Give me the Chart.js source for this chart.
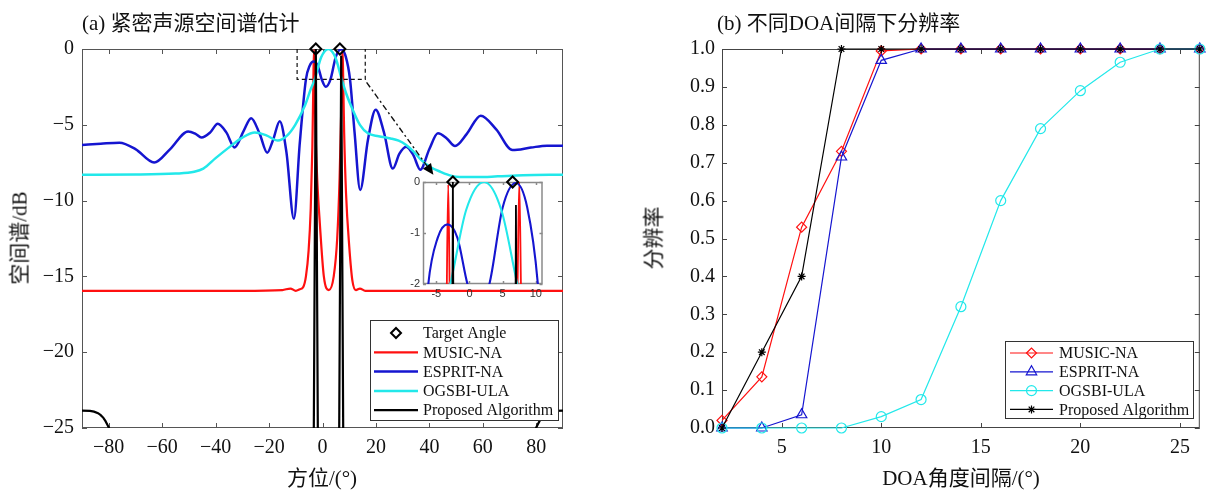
<!DOCTYPE html>
<html lang="zh-CN">
<head>
<meta charset="utf-8">
<title>DOA spectrum / resolution</title>
<script src="https://cdn.jsdelivr.net/npm/chart.js@4.4.1/dist/chart.umd.min.js"></script>
<style>
  html, body { margin: 0; padding: 0; background: #fff; }
  #wrap { position: relative; width: 1207px; height: 491px; overflow: hidden;
          font-family: 'Liberation Serif', 'Noto Sans CJK SC', serif; color: #111; }
  canvas { position: absolute; }
  .lbl { position: absolute; white-space: nowrap; font-size: 21px; line-height: 1; }
</style>
</head>
<body>
<div id="wrap">
  <canvas id="spec" width="600" height="491" style="left:0;top:0"></canvas>
  <canvas id="res" width="607" height="491" style="left:600px;top:0"></canvas>
  <canvas id="zoomIn" width="160" height="135" style="left:390px;top:170px"></canvas>

  <div class="lbl" style="left:82px;top:23px;transform:translateY(-50%)">(a) 紧密声源空间谱估计</div>
  <div class="lbl" style="left:717px;top:23px;transform:translateY(-50%)">(b) 不同DOA间隔下分辨率</div>
  <div class="lbl" style="left:20px;top:238px;transform:translate(-50%,-50%) rotate(-90deg)">空间谱/dB</div>
  <div class="lbl" style="left:322px;top:478px;transform:translate(-50%,-50%)">方位/(°)</div>
  <div class="lbl" style="left:654px;top:238px;transform:translate(-50%,-50%) rotate(-90deg)">分辨率</div>
  <div class="lbl" style="left:961px;top:478px;transform:translate(-50%,-50%)">DOA角度间隔/(°)</div>
</div>

<script>
// ===== (a) spatial spectrum: angle (deg) / level (dB)
const targetAngle = [-2.5, 6.5];
const targetDb = [0, 0];

const musicAngle = [-90, -60, -30, -15, -12, -10, -8.5, -7.2, -6.2, -5.2, -4.4, -3.8, -3.45, -3.2, -2.95, -2.6, -2, -1, 0.5, 2.4,
  4.2, 5.5, 6.4, 6.95, 7.25, 7.5, 7.75, 8.1, 8.8, 10, 11.2, 12.5, 14, 16, 30, 60, 90];
const musicDb = [-15.95, -15.95, -15.95, -15.9, -15.8, -15.95, -15.85, -15.7, -15.0, -13.3, -10.5, -6.5, -2.5, -0.05, -2.5, -5.5, -8.5, -11.5, -15, -15.9,
  -15, -12.5, -8.5, -4.5, -2.0, 0, -2.0, -5.5, -9.5, -13, -15.3, -15.9, -15.8, -15.95, -15.95, -15.95, -15.95];

const espritAngle = [-90, -83, -76, -70, -63, -57, -50.3, -47.5, -45.3, -42, -39.2, -36, -32.9, -29.5, -26.7, -23.5, -20.7, -18.5, -16, -13.5,
  -10.7, -8.5, -6.2, -4.8, -3.3, -1.8, -0.3, 1.2, 3, 5, 7, 8.7, 10.3, 12, 14.1, 17, 19.9, 23, 26.3, 28.8,
  31.3, 34, 36.6, 40, 43.2, 46.5, 49.6, 54, 59.2, 65, 71.1, 78, 84, 90];
const espritDb = [-6.33, -6.25, -6.18, -6.6, -7.49, -6.6, -5.44, -5.6, -5.84, -5.5, -4.93, -5.5, -6.49, -5.4, -4.56, -5.6, -6.84, -6.0, -4.76, -6.8,
  -11.2, -6.2, -2.0, -1.1, -0.83, -1.1, -2.0, -2.49, -2.0, -0.5, -0.02, -0.5, -2.0, -5.5, -9.3, -6.0, -4.0, -5.5, -7.89, -6.9,
  -6.44, -7.0, -7.96, -6.6, -5.56, -5.9, -6.4, -5.6, -4.4, -5.3, -6.67, -6.5, -6.38, -6.38];

const ogsbiAngle = [-90, -70, -55, -48, -44.6, -40, -34.6, -30, -25.3, -21, -16.7, -13.5, -10.2, -6.5, -4.5, -2.9, -0.5, 2.2, 4.8, 7.2,
  9, 11.3, 14, 17, 21, 25.5, 28.5, 31.3, 34, 37, 40.5, 44.2, 48, 51.3, 58, 65.6, 75, 90];
const ogsbiDb = [-8.29, -8.28, -8.22, -8.1, -7.89, -7.2, -6.44, -5.85, -5.51, -5.7, -6.04, -5.75, -5.0, -3.7, -2.7, -2.0, -0.55, 0, -0.55, -2.0,
  -3.0, -4.0, -5.0, -5.56, -5.75, -5.9, -6.05, -6.33, -6.75, -7.33, -7.8, -8.1, -8.35, -8.44, -8.45, -8.4, -8.33, -8.29];

const propAngle = [-90, -87, -85.5, -84, -83, -82, -81.2, -80.5, -79.9, -79.3, -60, -20, -3.4, -2.5, -1.6, 6.1, 7.0, 7.9,
  20, 60, 79.3, 79.9, 80.5, 81.2, 82, 83, 84, 85.5, 87, 90];
const propDb = [-23.86, -23.87, -23.92, -24.02, -24.15, -24.33, -24.55, -24.78, -25.0, -25.3, -30, -30, -30, 0, -30, -30, -0.45, -30,
  -30, -30, -25.3, -25.0, -24.78, -24.55, -24.33, -24.15, -24.02, -23.92, -23.87, -23.86];

const angleTicks = [-80, -60, -40, -20, 0, 20, 40, 60, 80];
const dbTicks = [0, -5, -10, -15, -20, -25];
const insetAngleTicks = [-5, 0, 5, 10];
const insetDbTicks = [0, -1, -2];

// ===== (b) resolution probability vs DOA separation (deg)
const separation = [2, 4, 6, 8, 10, 12, 14, 16, 18, 20, 22, 24, 26];
const musicRes = [0.02, 0.135, 0.53, 0.73, 0.995, 1, 1, 1, 1, 1, 1, 1, 1];
const espritRes = [0, 0, 0.035, 0.715, 0.97, 1, 1, 1, 1, 1, 1, 1, 1];
const ogsbiRes = [0, 0, 0, 0, 0.03, 0.075, 0.32, 0.6, 0.79, 0.89, 0.965, 1, 1];
const propRes = [0, 0.2, 0.4, 1, 1, 1, 1, 1, 1, 1, 1, 1, 1];
const sepTicks = [5, 10, 15, 20, 25];
const resTicks = [0, 0.1, 0.2, 0.3, 0.4, 0.5, 0.6, 0.7, 0.8, 0.9, 1.0];

const RED = '#ff1010', BLUE = '#1515d0', CYAN = '#22e8ea', BLACK = '#000';
const serif = 'Liberation Serif';
const pts = (xs, ys) => xs.map((x, i) => ({ x, y: ys[i] }));
const minus = v => (v < 0 ? '\u2212' + Math.abs(v) : String(v));

// box round the plot area + inward ticks on all four sides
function makeFrame(color, width, len, fill) {
  return {
    id: 'frame',
    beforeDatasetsDraw(chart) {
      const { ctx, chartArea: a, scales } = chart;
      ctx.save();
      if (fill) { ctx.fillStyle = fill; ctx.fillRect(a.left, a.top, a.right - a.left, a.bottom - a.top); }
      ctx.strokeStyle = color;
      ctx.lineWidth = width;
      ctx.strokeRect(a.left + 0.5, a.top + 0.5, a.right - a.left - 1, a.bottom - a.top - 1);
      ctx.beginPath();
      scales.x.ticks.forEach(t => {
        const p = Math.round(scales.x.getPixelForValue(t.value)) + 0.5;
        ctx.moveTo(p, a.bottom); ctx.lineTo(p, a.bottom - len);
        ctx.moveTo(p, a.top); ctx.lineTo(p, a.top + len);
      });
      scales.y.ticks.forEach(t => {
        const p = Math.round(scales.y.getPixelForValue(t.value)) + 0.5;
        ctx.moveTo(a.left, p); ctx.lineTo(a.left + len, p);
        ctx.moveTo(a.right, p); ctx.lineTo(a.right - len, p);
      });
      ctx.stroke();
      ctx.restore();
    }
  };
}

// boxed legend drawn inside the plot area
function makeLegend(box, rowTop, rowStep, lineX, textX, rows) {
  return {
    id: 'boxLegend',
    afterDraw(chart) {
      const ctx = chart.ctx;
      ctx.save();
      ctx.fillStyle = '#fff';
      ctx.fillRect(box.x, box.y, box.w, box.h);
      ctx.strokeStyle = '#333';
      ctx.lineWidth = 1;
      ctx.strokeRect(box.x + 0.5, box.y + 0.5, box.w - 1, box.h - 1);
      ctx.font = '16px "' + serif + '"';
      ctx.textBaseline = 'middle';
      rows.forEach((r, i) => {
        const y = rowTop + i * rowStep;
        if (r.line) {
          ctx.strokeStyle = r.color;
          ctx.lineWidth = r.line;
          ctx.beginPath(); ctx.moveTo(lineX[0], y); ctx.lineTo(lineX[1], y); ctx.stroke();
        }
        if (r.marker) {
          ctx.strokeStyle = r.color;
          ctx.fillStyle = 'rgba(0,0,0,0)';
          ctx.lineWidth = r.markerWidth;
          Chart.helpers.drawPoint(ctx, { pointStyle: r.marker, radius: r.radius, borderWidth: r.markerWidth, rotation: 0 },
            (lineX[0] + lineX[1]) / 2, y);
        }
        ctx.fillStyle = '#111';
        ctx.fillText(r.label, textX, y + 1);
      });
      ctx.restore();
    }
  };
}

// dashed zoom window and dash-dot arrow to the inset
const zoomBox = { from: -9.5, to: 16, low: -2 };
const arrowFrom = { x: 16.5, y: -2.2 }, arrowTo = { x: 41.5, y: -8.3 };
const zoomMark = {
  id: 'zoomMark',
  afterDatasetsDraw(chart) {
    const { ctx, scales: { x, y } } = chart;
    const x0 = x.getPixelForValue(zoomBox.from), x1 = x.getPixelForValue(zoomBox.to);
    const yTop = y.getPixelForValue(0), yLow = y.getPixelForValue(zoomBox.low);
    ctx.save();
    ctx.strokeStyle = '#111';
    ctx.lineWidth = 1.2;
    ctx.setLineDash([4, 3]);
    ctx.beginPath();
    ctx.moveTo(x0, yTop); ctx.lineTo(x0, yLow); ctx.lineTo(x1, yLow); ctx.lineTo(x1, yTop);
    ctx.stroke();

    const ax = x.getPixelForValue(arrowFrom.x), ay = y.getPixelForValue(arrowFrom.y);
    const bx = x.getPixelForValue(arrowTo.x), by = y.getPixelForValue(arrowTo.y);
    const ang = Math.atan2(by - ay, bx - ax);
    const head = 11, half = 5;
    const hx = bx - head * Math.cos(ang), hy = by - head * Math.sin(ang);
    ctx.lineWidth = 1.4;
    ctx.setLineDash([6, 3, 2, 3]);
    ctx.beginPath(); ctx.moveTo(ax, ay); ctx.lineTo(hx, hy); ctx.stroke();
    ctx.setLineDash([]);
    ctx.fillStyle = '#000';
    ctx.beginPath();
    ctx.moveTo(bx, by);
    ctx.lineTo(hx + half * Math.sin(ang), hy - half * Math.cos(ang));
    ctx.lineTo(hx - half * Math.sin(ang), hy + half * Math.cos(ang));
    ctx.closePath();
    ctx.fill();
    ctx.restore();
  }
};

const base = {
  responsive: false,
  animation: false,
  devicePixelRatio: 1,
  events: [],
  plugins: { legend: { display: false }, tooltip: { enabled: false } },
  elements: { point: { radius: 0 } }
};

function axis(min, max, tickList, fmt, font, pad, size, horiz) {
  return {
    type: 'linear', min, max,
    grid: { display: false, drawTicks: false },
    border: { display: false },
    ticks: { font, color: '#111', padding: pad, autoSkip: false, maxRotation: 0, callback: fmt },
    afterBuildTicks: s => { s.ticks = tickList.map(v => ({ value: v })); },
    afterFit: s => { if (horiz) s.height = size; else s.width = size; }
  };
}

function spectrumSets(lw) {
  return [
    { data: pts(targetAngle, targetDb), showLine: false, pointStyle: 'rectRot', pointRadius: 5.5, pointBorderWidth: 2,
      pointBorderColor: BLACK, pointBackgroundColor: 'rgba(0,0,0,0)', clip: false, order: 0 },
    { data: pts(propAngle, propDb), borderColor: BLACK, borderWidth: lw, tension: 0, order: 1 },
    { data: pts(ogsbiAngle, ogsbiDb), borderColor: CYAN, borderWidth: lw + 0.3, cubicInterpolationMode: 'monotone', order: 2 },
    { data: pts(espritAngle, espritDb), borderColor: BLUE, borderWidth: lw + 0.3, cubicInterpolationMode: 'monotone', order: 3 },
    { data: pts(musicAngle, musicDb), borderColor: RED, borderWidth: lw, cubicInterpolationMode: 'monotone', order: 4 }
  ];
}

const tickFont = { family: serif, size: 20 };

// ----- (a) main spectrum
new Chart(document.getElementById('spec'), {
  type: 'line',
  data: { datasets: spectrumSets(2.2) },
  options: {
    ...base,
    layout: { padding: { top: 49, right: 37, left: 0, bottom: 0 } },
    scales: {
      x: axis(-90, 90, angleTicks, minus, tickFont, 8, 63, true),
      y: axis(-25, 0, dbTicks, minus, tickFont, 8, 82, false)
    }
  },
  plugins: [
    makeFrame('#555', 1, 5),
    zoomMark,
    makeLegend({ x: 370, y: 320, w: 189, h: 101 }, 333, 19.3, [374, 418], 423, [
      { label: 'Target Angle', color: BLACK, marker: 'rectRot', radius: 5, markerWidth: 2 },
      { label: 'MUSIC-NA', color: RED, line: 2.2 },
      { label: 'ESPRIT-NA', color: BLUE, line: 2.5 },
      { label: 'OGSBI-ULA', color: CYAN, line: 2.5 },
      { label: 'Proposed Algorithm', color: BLACK, line: 2.2 }
    ])
  ]
});

// ----- (a) inset, close-up of the two peaks
const insetFont = { family: 'Liberation Sans', size: 11 };
const insetX = axis(-7, 11, insetAngleTicks, v => String(v), insetFont, 3, 21, true);
const insetY = axis(-2, 0, insetDbTicks, v => String(v), insetFont, 3, 33, false);
insetX.ticks.color = '#333';
insetY.ticks.color = '#333';
new Chart(document.getElementById('zoomIn'), {
  type: 'line',
  data: { datasets: spectrumSets(1.8) },
  options: {
    ...base,
    layout: { padding: { top: 12, right: 5, left: 0, bottom: 0 } },
    scales: { x: insetX, y: insetY }
  },
  plugins: [makeFrame('#8a8a8a', 1.5, 3, '#fff')]
});

// ----- (b) resolution probability
const hollow = 'rgba(0,0,0,0)';
new Chart(document.getElementById('res'), {
  type: 'line',
  data: {
    datasets: [
      { data: pts(separation, musicRes), borderColor: RED, borderWidth: 1.2, pointStyle: 'rectRot', pointRadius: 5,
        pointBorderWidth: 1.2, pointBorderColor: RED, pointBackgroundColor: hollow, clip: false, order: 3 },
      { data: pts(separation, espritRes), borderColor: BLUE, borderWidth: 1.2, pointStyle: 'triangle', pointRadius: 6,
        pointBorderWidth: 1.2, pointBorderColor: BLUE, pointBackgroundColor: hollow, clip: false, order: 2 },
      { data: pts(separation, ogsbiRes), borderColor: CYAN, borderWidth: 1.2, pointStyle: 'circle', pointRadius: 5,
        pointBorderWidth: 1.2, pointBorderColor: CYAN, pointBackgroundColor: hollow, clip: false, order: 1 },
      { data: pts(separation, propRes), borderColor: BLACK, borderWidth: 1.2, pointStyle: 'star', pointRadius: 4,
        pointBorderWidth: 1.2, pointBorderColor: BLACK, pointBackgroundColor: hollow, clip: false, order: 0 }
    ]
  },
  options: {
    ...base,
    layout: { padding: { top: 49, right: 7, left: 0, bottom: 0 } },
    scales: {
      x: axis(2, 26, sepTicks, v => String(v), tickFont, 8, 63, true),
      y: axis(0, 1, resTicks, v => v.toFixed(1), tickFont, 7, 122, false)
    }
  },
  plugins: [
    makeFrame('#444', 1, 5),
    makeLegend({ x: 405, y: 341, w: 189, h: 78 }, 353, 18.8, [410, 453], 459, [
      { label: 'MUSIC-NA', color: RED, line: 1.2, marker: 'rectRot', radius: 5, markerWidth: 1.2 },
      { label: 'ESPRIT-NA', color: BLUE, line: 1.2, marker: 'triangle', radius: 6, markerWidth: 1.2 },
      { label: 'OGSBI-ULA', color: CYAN, line: 1.2, marker: 'circle', radius: 5, markerWidth: 1.2 },
      { label: 'Proposed Algorithm', color: BLACK, line: 1.2, marker: 'star', radius: 4, markerWidth: 1.2 }
    ])
  ]
});
</script>
</body>
</html>
